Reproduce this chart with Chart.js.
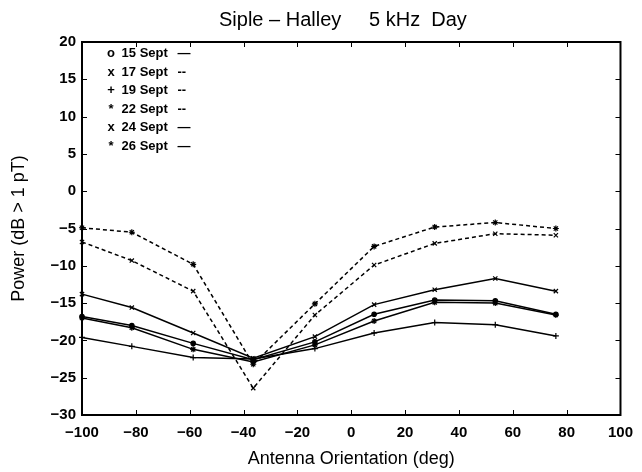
<!DOCTYPE html>
<html>
<head>
<meta charset="utf-8">
<script src="https://cdn.jsdelivr.net/npm/chart.js@4/dist/chart.umd.min.js"></script>
<style>
  body { margin: 0; background: #fff; }
  #wrap { position: relative; width: 642px; height: 472px; }
  #legend { position: absolute; left: 104px; top: 44px; font: bold 13px "Liberation Sans", Arial, sans-serif; color: #000; }
  #legend div { height: 18.5px; line-height: 18.5px; white-space: nowrap; }
  #legend .m { display: inline-block; width: 14px; text-align: center; }
  #legend .d { margin-left: 6px; }
</style>
</head>
<body>
<div id="wrap">
  <canvas id="c" width="642" height="472"></canvas>
  <div id="legend"></div>
</div>
<script>
'use strict';

// antenna orientation (deg) of the measurements
const ANGLES = [-100, -81.5, -58.7, -36.4, -13.5, 8.5, 31, 53.5, 76];

// power (dB > 1 pT), one array per day
const SEPT15 = [-16.8, -18.0, -20.4, -22.6, -20.2, -16.5, -14.6, -14.7, -16.5];
const SEPT17 = [-6.8, -9.3, -13.4, -26.4, -16.6, -9.9, -7.0, -5.7, -5.9];
const SEPT19 = [-19.6, -20.8, -22.3, -22.5, -21.1, -19.0, -17.6, -17.9, -19.4];
const SEPT22 = [-4.9, -5.5, -9.8, -23.2, -15.1, -7.4, -4.8, -4.2, -5.0];
const SEPT24 = [-13.8, -15.6, -19.0, -22.4, -19.5, -15.2, -13.2, -11.7, -13.4];
const SEPT26 = [-17.0, -18.3, -21.2, -22.9, -20.6, -17.4, -14.9, -15.0, -16.6];

const X_TICKS = [-100, -80, -60, -40, -20, 0, 20, 40, 60, 80, 100];
const Y_TICKS = [-30, -25, -20, -15, -10, -5, 0, 5, 10, 15, 20];

const SERIES = [
  { label: '15 Sept', data: SEPT15, marker: 'o', dash: '\u2014', style: 'circle',   dashed: false },
  { label: '17 Sept', data: SEPT17, marker: 'x', dash: '--',     style: 'crossRot', dashed: true },
  { label: '19 Sept', data: SEPT19, marker: '+', dash: '--',     style: 'cross',    dashed: false },
  { label: '22 Sept', data: SEPT22, marker: '*', dash: '--',     style: 'star',     dashed: true },
  { label: '24 Sept', data: SEPT24, marker: 'x', dash: '\u2014', style: 'crossRot', dashed: false },
  { label: '26 Sept', data: SEPT26, marker: '*', dash: '\u2014', style: 'star',     dashed: false },
];

const FONT = '"Liberation Sans", Arial, sans-serif';
const minus = v => String(v).replace('-', '\u2212');

// boîte façon MATLAB : cadre + graduations vers l'intérieur sur les 4 côtés
const boxTicks = {
  id: 'boxTicks',
  afterDatasetsDraw(chart) {
    const { ctx, chartArea: a, scales: { x, y } } = chart;
    ctx.save();
    ctx.strokeStyle = '#000';
    ctx.lineWidth = 1;
    ctx.beginPath();
    x.ticks.forEach(t => {
      const px = Math.round(x.getPixelForValue(t.value)) + 0.5;
      ctx.moveTo(px, a.bottom); ctx.lineTo(px, a.bottom - 5);
      ctx.moveTo(px, a.top);    ctx.lineTo(px, a.top + 5);
    });
    y.ticks.forEach(t => {
      const py = Math.round(y.getPixelForValue(t.value)) + 0.5;
      ctx.moveTo(a.left, py);  ctx.lineTo(a.left + 5, py);
      ctx.moveTo(a.right, py); ctx.lineTo(a.right - 5, py);
    });
    ctx.stroke();
    ctx.lineWidth = 2;
    ctx.strokeRect(a.left, a.top, a.right - a.left, a.bottom - a.top);
    ctx.restore();
  }
};

const datasets = SERIES.map(s => ({
  label: s.label,
  data: ANGLES.map((a, i) => ({ x: a, y: s.data[i] })),
  borderColor: '#000',
  backgroundColor: '#000',
  borderWidth: 1.5,
  borderDash: s.dashed ? [4, 3] : [],
  pointStyle: s.style,
  pointRadius: s.style === 'circle' ? 2.2 : 3,
  pointBorderWidth: 1.2,
  tension: 0,
  fill: false,
  clip: false,
}));

new Chart(document.getElementById('c'), {
  type: 'line',
  data: { datasets },
  plugins: [boxTicks],
  options: {
    responsive: false,
    animation: false,
    layout: { padding: { left: 0, right: 21, top: 0, bottom: 0 } },
    plugins: {
      legend: { display: false },
      tooltip: { enabled: false },
      title: {
        display: true,
        fullSize: false,
        text: 'Siple \u2013 Halley     5 kHz  Day   ',
        color: '#000',
        font: { family: FONT, size: 20, weight: 'normal' },
        padding: { top: 8, bottom: 10 },
      },
    },
    scales: {
      x: {
        type: 'linear',
        min: -100, max: 100,
        afterBuildTicks: sc => { sc.ticks = X_TICKS.map(v => ({ value: v })); },
        afterFit: sc => { sc.height = 57; },
        grid: { display: false, drawTicks: false },
        border: { display: false },
        ticks: { color: '#000', padding: 9, font: { family: FONT, size: 15, weight: 'bold' }, callback: minus },
        title: {
          display: true, text: 'Antenna Orientation (deg)', color: '#000',
          font: { family: FONT, size: 18 }, padding: { bottom: 2 },
        },
      },
      y: {
        min: -30, max: 20,
        afterBuildTicks: sc => { sc.ticks = Y_TICKS.map(v => ({ value: v })); },
        afterFit: sc => { sc.width = 82; },
        grid: { display: false, drawTicks: false },
        border: { display: false },
        ticks: { color: '#000', padding: 6, font: { family: FONT, size: 15, weight: 'bold' }, callback: minus },
        title: {
          display: true, text: 'Power (dB > 1 pT)', color: '#000',
          font: { family: FONT, size: 18 }, padding: { top: 8 },
        },
      },
    },
  },
});

document.getElementById('legend').innerHTML = SERIES.map(s =>
  `<div><span class="m">${s.marker}</span> ${s.label} <span class="d">${s.dash}</span></div>`
).join('');
</script>
</body>
</html>
